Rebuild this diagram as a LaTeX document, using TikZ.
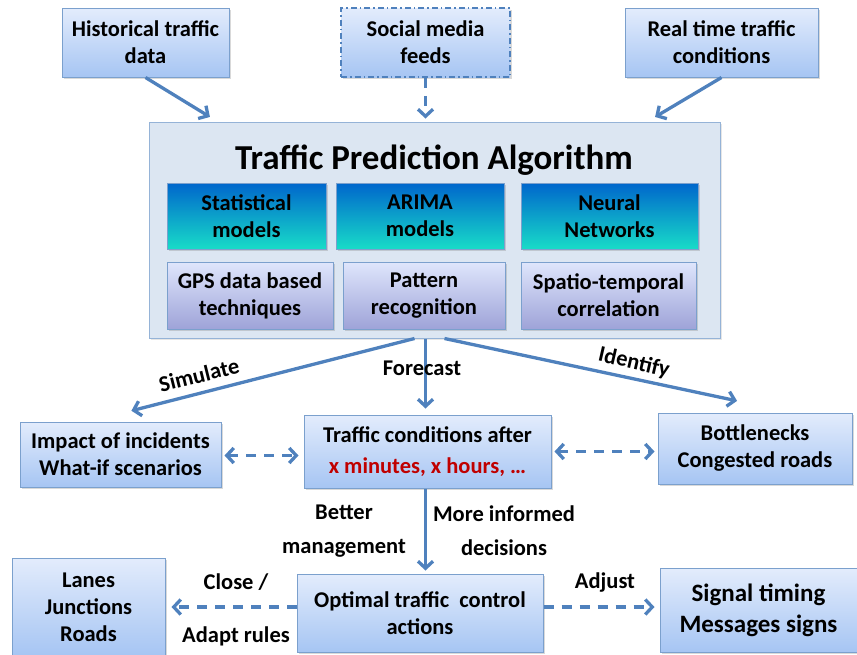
\documentclass[tikz,border=0pt]{standalone}
\usepackage{fontspec}
\setmainfont{Carlito}
\usetikzlibrary{arrows.meta, positioning, shadows}

\definecolor{boxline}{HTML}{7BA0CD}
\definecolor{boxtop}{HTML}{E3ECFC}
\definecolor{boxbot}{HTML}{A6C5F3}
\definecolor{arrowblue}{HTML}{4F81BD}
\definecolor{algofill}{HTML}{DCE6F2}
\definecolor{algoline}{HTML}{95B3D7}
\definecolor{modtop}{HTML}{0066CC}
\definecolor{modbot}{HTML}{18DCC8}
\definecolor{techtop}{HTML}{DFE6FC}
\definecolor{techbot}{HTML}{9EA3D8}
\definecolor{darkred}{HTML}{C00000}

\begin{document}
\begin{tikzpicture}[x=1pt, y=-1pt,
    font=\bfseries\fontsize{22.5}{27}\selectfont,
    box/.style={draw=boxline, line width=1pt, top color=boxtop, bottom color=boxbot,
        align=center, inner sep=2pt,
        drop shadow={opacity=0.3, shadow xshift=2pt, shadow yshift=-2pt}},
    model/.style={box, top color=modtop, bottom color=modbot},
    tech/.style={box, top color=techtop, bottom color=techbot},
    flow/.style={-{Straight Barb[length=7pt, width=15pt]}, line width=3.3pt, draw=arrowblue,
        shorten >=3pt},
    dflow/.style={flow, dash pattern=on 10pt off 8pt},
    lbl/.style={align=center, inner sep=0pt}]

    \useasboundingbox (0,0) rectangle (857,654);

    % inputs
    \node[box, minimum width=167pt, minimum height=69pt] (hist)   at (145.5,42.5) {Historical traffic\\data};
    \node[box, minimum width=169pt, minimum height=69pt, draw=arrowblue, line width=1.5pt,
          dash pattern=on 6pt off 3pt on 1.5pt off 3pt] (social) at (425.5,42.5) {Social media\\feeds};
    \node[box, minimum width=193pt, minimum height=69pt] (real)   at (721.5,42.5) {Real time traffic\\conditions};

    % the algorithm
    \node[draw=algoline, line width=1pt, fill=algofill, minimum width=571pt, minimum height=216pt,
          drop shadow={opacity=0.2, shadow xshift=2pt, shadow yshift=-2pt}] (algo) at (434.5,230) {};
    \node[lbl, font=\bfseries\fontsize{35}{40}\selectfont] (title) at (434,160) {Traffic Prediction Algorithm};

    \node[model, minimum width=159pt, minimum height=66pt] (stat)   at (246.5,216) {Statistical\\models};
    \node[model, minimum width=168pt, minimum height=66pt] (arima)  at (420,216)   {ARIMA\\models};
    \node[model, minimum width=177pt, minimum height=66pt] (neural) at (609.5,216) {Neural\\Networks};
    \node[tech, minimum width=166pt, minimum height=67pt] (gps)     at (250,295.5)   {GPS data based\\techniques};
    \node[tech, minimum width=162pt, minimum height=67pt] (pattern) at (424,295.5)   {Pattern\\recognition};
    \node[tech, minimum width=175pt, minimum height=67pt] (spatio)  at (608.5,295.5) {Spatio-temporal\\correlation};

    % outcomes
    \node[box, minimum width=201pt, minimum height=65pt] (impact) at (120.5,454.5) {Impact of incidents\\What-if scenarios};
    \node[box, minimum width=247pt, minimum height=73pt] (after)  at (427.5,451.5)
        {Traffic conditions after\\[4pt]{\color{darkred}x minutes, x hours, \ldots}};
    \node[box, minimum width=194pt, minimum height=71pt] (bottle) at (755,448.5) {Bottlenecks\\Congested roads};

    % actions
    \node[box, minimum width=153pt, minimum height=98pt] (lanes)   at (88.5,607)  {Lanes\\Junctions\\Roads};
    \node[box, minimum width=246pt, minimum height=78pt] (optimal) at (420,613)   {Optimal traffic\ \ control\\actions};
    \node[box, minimum width=197pt, minimum height=84pt,
          font=\bfseries\fontsize{25}{31}\selectfont] (signal) at (758.5,610) {Signal timing\\Messages signs};

    % connectors
    \draw[flow] (hist.south) -- ([xshift=64pt,yshift=3pt]algo.north west);
    \draw[dflow] (social.south) -- (social.south |- algo.north);
    \draw[flow] (real.south) -- ([xshift=-68pt,yshift=3pt]algo.north east);

    \draw[flow] ([xshift=-20pt]algo.south) -- ([xshift=8pt,yshift=10pt]impact.north);
    \draw[flow, shorten >=6pt] ([xshift=-2pt]after.north |- algo.south) -- ([xshift=-2pt]after.north);
    \draw[flow] ([xshift=10pt]algo.south) -- ([xshift=-15pt,yshift=11pt]bottle.north);

    \draw[dflow, {Straight Barb[length=7pt, width=15pt]}-{Straight Barb[length=7pt, width=15pt]},
          shorten <=3pt, shorten >=5pt] ([yshift=-1pt]impact.east) -- ([yshift=-1pt]impact.east -| after.west);
    \draw[dflow, {Straight Barb[length=7pt, width=15pt]}-{Straight Barb[length=7pt, width=15pt]},
          shorten <=3pt, shorten >=3pt] (after.east) -- (after.east -| bottle.west);

    \draw[flow] ([xshift=-2pt]after.south) -- ([xshift=-2pt]after.south |- optimal.north);
    \draw[dflow, shorten >=6pt] (lanes.east -| optimal.west) -- (lanes.east);
    \draw[dflow, shorten >=5pt] ([yshift=3pt]signal.west -| optimal.east) -- ([yshift=3pt]signal.west);

    % connector labels
    \node[lbl, rotate=14]  (simlbl) at (199,375) {Simulate};
    \node[lbl]             (forlbl) at (422,368) {Forecast};
    \node[lbl, rotate=-13] (idlbl)  at (634,363) {Identify};
    \node[lbl, font=\bfseries\fontsize{22.5}{34}\selectfont] (betlbl) at (344,531) {Better\\management};
    \node[lbl, font=\bfseries\fontsize{22.5}{34}\selectfont] (morlbl) at (504,531) {More informed\\decisions};
    \node[lbl] (clolbl) at (236,582) {Close /};
    \node[lbl] (adalbl) at (236,636) {Adapt rules};
    \node[lbl] (adjlbl) at (605,582) {Adjust};
\end{tikzpicture}
\end{document}
